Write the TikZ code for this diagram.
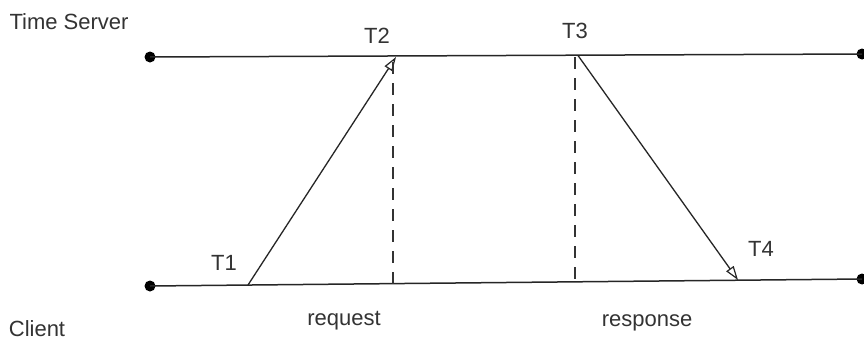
\documentclass[tikz,border=0pt]{standalone}
\usepackage{fontspec}
\setmainfont{Liberation Sans}
\usetikzlibrary{arrows.meta}
\begin{document}
\begin{tikzpicture}[x=1pt,y=-1pt,
  dot/.style={circle,fill=black,inner sep=0pt,minimum size=11pt},
  timeline/.style={draw=black!85,line width=1.5pt},
  msg/.style={draw=black!85,line width=1.3pt,-{Triangle[open,length=14pt,width=9pt,line width=1.2pt]}},
  mark line/.style={draw=black!80,line width=1.2pt,dash pattern=on 12pt off 9pt},
  lbl/.style={anchor=base,inner sep=0pt,text=black!80,font=\fontsize{22}{26}\selectfont}]
\useasboundingbox (0,0) rectangle (864,340);
\fill[white] (0,0) rectangle (864,340);
% timeline end points
\node[dot] (sL) at (150,57) {};
\node[dot] (sR) at (862,54) {};
\node[dot] (cL) at (150,286) {};
\node[dot] (cR) at (862,279) {};
\draw[timeline] (sL.center) -- (sR.center);
\draw[timeline] (cL.center) -- (cR.center);
% event points
\coordinate (t1) at (248,285);
\coordinate (t2) at (396,57);
\coordinate (t3) at (578,55.5);
\coordinate (t4) at (738,280);
\coordinate (d2top) at (393,62);
\coordinate (d2bot) at (393,283.6);
\coordinate (d3top) at (575,57);
\coordinate (d3bot) at (575,281.8);
% messages
\draw[msg] (t1) -- (t2);
\draw[msg] (t3) -- (t4);
\draw[mark line] (d2top) -- (d2bot);
\draw[mark line] (d3top) -- (d3bot);
% labels
\node[lbl] (ts) at (69,29) {Time Server};
\node[lbl] (cl) at (37,336) {Client};
\node[lbl] (lt1) at (224,270) {T1};
\node[lbl] (lt2) at (377,43) {T2};
\node[lbl] (lt3) at (575,38) {T3};
\node[lbl] (lt4) at (761,256) {T4};
\node[lbl] (req) at (344,325) {request};
\node[lbl] (resp) at (647,326) {response};
\end{tikzpicture}
\end{document}
